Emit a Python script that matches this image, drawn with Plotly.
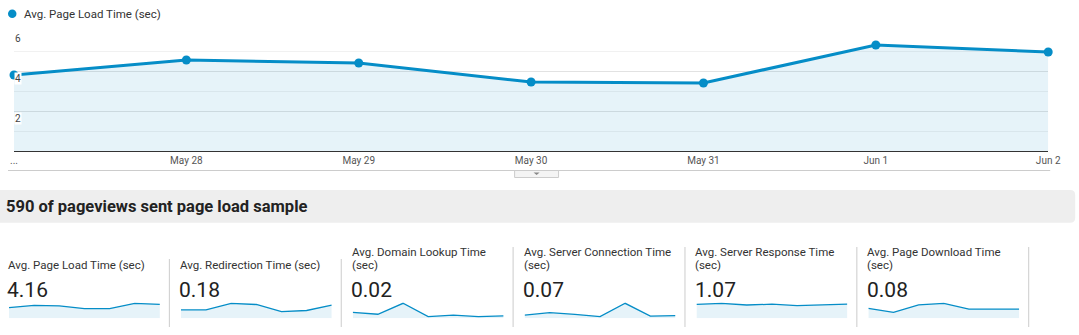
import plotly.graph_objects as go

# ---------------- data ----------------
dates = ["...", "May 28", "May 29", "May 30", "May 31", "Jun 1", "Jun 2"]
page_load = [3.8, 4.55, 4.4, 3.45, 3.4, 5.3, 4.95]
y_ticks = [2, 4, 6]

card_titles = [
    "Avg. Page Load Time (sec)",
    "Avg. Redirection Time (sec)",
    "Avg. Domain Lookup Time\n(sec)",
    "Avg. Server Connection Time\n(sec)",
    "Avg. Server Response Time\n(sec)",
    "Avg. Page Download Time\n(sec)",
]
card_values = ["4.16", "0.18", "0.02", "0.07", "1.07", "0.08"]
spark_redirect = [0.14, 0.14, 0.25, 0.23, 0.11, 0.13, 0.22]
spark_dns = [0.028, 0.019, 0.07, 0.008, 0.015, 0.008, 0.011]
spark_connect = [0.048, 0.083, 0.059, 0.024, 0.22, 0.033, 0.04]
spark_response = [1.06, 1.14, 1.01, 1.07, 0.96, 1.01, 1.08]
spark_download = [0.073, 0.044, 0.098, 0.11, 0.068, 0.066, 0.068]
sparks = [page_load, spark_redirect, spark_dns, spark_connect, spark_response, spark_download]

header_text = "590 of pageviews sent page load sample"
legend_text = "Avg. Page Load Time (sec)"

# ---------------- styling ----------------
W, H = 1079, 335
BLUE = "#058DC7"
FILL = "rgba(5,141,199,0.10)"
FONT = "Roboto"
TXT_PAD = 2.5  # annotation text sits this far right of its anchor


def px(x):
    # horizontal position (screen pixels) -> paper fraction
    return (x - 3) / 0.985 / W


def py(y):
    return 1 - y / H


fig = go.Figure()
xs = list(range(len(dates)))

# main chart
fig.add_trace(go.Scatter(
    x=xs, y=page_load, mode="lines+markers",
    line=dict(color=BLUE, width=3),
    marker=dict(color=BLUE, size=9),
    fill="tozeroy", fillcolor=FILL,
    cliponaxis=False, showlegend=False, hoverinfo="skip",
    xaxis="x", yaxis="y",
))

layout = dict(
    width=W, height=H, autosize=False,
    margin=dict(l=0, r=0, t=0, b=0),
    paper_bgcolor="white", plot_bgcolor="rgba(0,0,0,0)",
    font=dict(family=FONT, color="#333"),
    showlegend=False,
    xaxis=dict(
        domain=[px(13), px(1048)], range=[0, len(dates) - 1],
        tickvals=xs, ticktext=dates, showgrid=False, zeroline=False,
        showline=True, linecolor="#333", linewidth=1,
        ticks="", tickfont=dict(size=10, color="#555", family=FONT),
        fixedrange=True,
    ),
    yaxis=dict(
        domain=[py(151), py(31)], range=[0, 6],
        dtick=2, showticklabels=False, showgrid=True,
        gridcolor="#e2e2e2", gridwidth=1, zeroline=False,
        minor=dict(dtick=1, showgrid=True, gridcolor="#f1f1f1", gridwidth=1),
        fixedrange=True,
    ),
)

annotations = []
shapes = []

# y tick labels inside the plot, below their gridlines
for v in y_ticks:
    annotations.append(dict(
        x=0, y=v, xref="x", yref="y", text=str(v), showarrow=False,
        xanchor="left", yanchor="top", xshift=0, yshift=-1,
        font=dict(size=10, color="#444", family=FONT),
        bgcolor="white", borderpad=0,
    ))

# legend
shapes.append(dict(type="circle", xref="paper", yref="paper",
                   x0=px(7), x1=px(15.5), y0=py(18), y1=py(9.5),
                   fillcolor=BLUE, line=dict(width=0)))
annotations.append(dict(x=px(23.3 - TXT_PAD), y=py(14), xref="paper", yref="paper",
                        text=legend_text, showarrow=False, xanchor="left",
                        yanchor="middle", font=dict(size=11.5, color="#333", family=FONT)))

# line under chart + small tab
shapes.append(dict(type="line", xref="paper", yref="paper",
                   x0=px(7), x1=px(1050), y0=py(170.5), y1=py(170.5),
                   line=dict(color="#cccccc", width=1)))
shapes.append(dict(type="rect", xref="paper", yref="paper",
                   x0=px(514), x1=px(558), y0=py(177.5), y1=py(170.5),
                   fillcolor="#f4f4f4", line=dict(color="#cccccc", width=1)))
shapes.append(dict(type="path", xref="paper", yref="paper",
                   path=f"M {px(533)} {py(172.5)} L {px(539)} {py(172.5)} L {px(536)} {py(175)} Z",
                   fillcolor="#888", line=dict(width=0)))

# header band with rounded corners (right side visible)
x0, x1, y0, y1, r = -10, 1075, 190, 222.7, 5
rx = px(x1) - px(x1 - r)
ry = r / H
band = (f"M {px(x0)} {py(y0)} L {px(x1) - rx} {py(y0)} "
        f"Q {px(x1)} {py(y0)} {px(x1)} {py(y0) - ry} "
        f"L {px(x1)} {py(y1) + ry} Q {px(x1)} {py(y1)} {px(x1) - rx} {py(y1)} "
        f"L {px(x0)} {py(y1)} Z")
shapes.append(dict(type="path", xref="paper", yref="paper", path=band,
                   fillcolor="#eeeeee", line=dict(width=0), layer="below"))
annotations.append(dict(x=px(5 - TXT_PAD), y=py(206.5), xref="paper", yref="paper",
                        text=f"<b>{header_text}</b>", showarrow=False,
                        xanchor="left", yanchor="middle",
                        font=dict(size=16.5, color="#222", family=FONT)))

# cards
card_left0, card_step, spark_w = 8, 172, 151
for i, (title, val, sp) in enumerate(zip(card_titles, card_values, sparks)):
    left = card_left0 + card_step * i
    lines = title.split("\n")
    for j, ln in enumerate(reversed(lines)):
        annotations.append(dict(
            x=px(left - 0.5 - TXT_PAD), y=py(265 - 13.3 * j), xref="paper", yref="paper",
            text=ln, showarrow=False, xanchor="left", yanchor="middle",
            font=dict(size=11.5, color="#333", family=FONT)))
    annotations.append(dict(
        x=px(left - 1 - TXT_PAD), y=py(289.5), xref="paper", yref="paper",
        text=val, showarrow=False, xanchor="left", yanchor="middle",
        font=dict(size=21, color="#222", family=FONT)))
    top = 259 if len(lines) == 1 else 247
    shapes.append(dict(type="line", xref="paper", yref="paper",
                       x0=px(left + 160.5), x1=px(left + 160.5),
                       y0=py(327), y1=py(top),
                       line=dict(color="#cccccc", width=1)))
    k = i + 2
    xa, ya = f"xaxis{k}", f"yaxis{k}"
    m = max(sp)
    fig.add_trace(go.Scatter(
        x=xs, y=sp, mode="lines", line=dict(color=BLUE, width=1.3),
        fill="tozeroy", fillcolor=FILL, showlegend=False, hoverinfo="skip",
        xaxis=f"x{k}", yaxis=f"y{k}",
    ))
    layout[xa] = dict(domain=[px(left), px(left + spark_w)], range=[0, len(sp) - 1],
                      visible=False, fixedrange=True)
    layout[ya] = dict(domain=[py(318.3), py(302.3)], range=[0, m * 16 / 15],
                      visible=False, fixedrange=True)

layout["annotations"] = annotations
layout["shapes"] = shapes
fig.update_layout(**layout)

post = ("document.documentElement.style.margin='0';document.documentElement.style.padding='0';"
        "document.documentElement.style.overflow='hidden';"
        "document.body.style.margin='0';document.body.style.padding='0';"
        "document.body.style.overflow='hidden';")
fig.write_html("out.html", config={"displayModeBar": False, "responsive": False},
               post_script=post)
